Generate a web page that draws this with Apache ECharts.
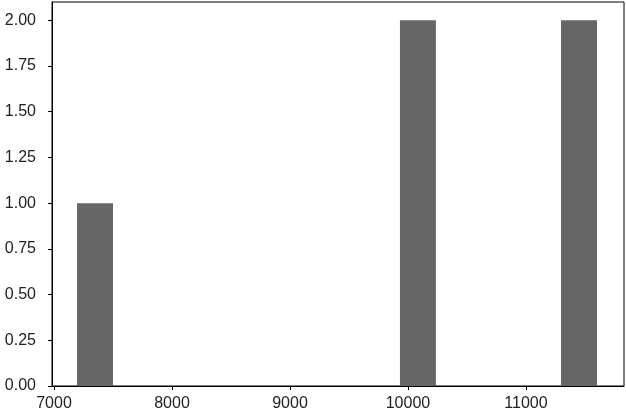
<!DOCTYPE html>
<html>
<head>
<meta charset="utf-8">
<script src="https://cdn.jsdelivr.net/npm/echarts@6/dist/echarts.min.js"></script>
<style>
  html, body { margin: 0; padding: 0; background: #fff; }
  #chart { width: 626px; height: 412px; }
</style>
</head>
<body>
<div id="chart"></div>
<script>
// histogram bars: left edge, right edge, count
const binLeft = [7195, 9932, 11297];
const binRight = [7500, 10237, 11602];
const counts = [1, 2, 2];

const xTicks = [7000, 8000, 9000, 10000, 11000];
const yTicks = [0, 0.25, 0.5, 0.75, 1.0, 1.25, 1.5, 1.75, 2.0];

const chart = echarts.init(document.getElementById("chart"));

const data = binLeft.map((l, i) => [l, binRight[i], counts[i]]);

const labelStyle = {
    color: "#222",
    fontFamily: "Liberation Sans",
    fontSize: 16
};

const option = {
    animation: false,
    grid: {
        left: 52,
        right: 2,
        top: 2,
        bottom: 26,
        show: true,
        borderColor: "#000",
        borderWidth: 1
    },
    xAxis: {
        type: "value",
        min: 6983,
        max: 11831,
        splitLine: { show: false },
        axisLine: { lineStyle: { color: "#000" } },
        axisTick: {
            show: true,
            length: 4,
            customValues: xTicks,
            lineStyle: { color: "#000" }
        },
        axisLabel: Object.assign({
            margin: 10,
            customValues: xTicks,
            formatter: v => String(v)
        }, labelStyle)
    },
    yAxis: {
        type: "value",
        min: 0,
        max: 2.1,
        splitLine: { show: false },
        axisLine: { show: true, lineStyle: { color: "#000" } },
        axisTick: {
            show: true,
            length: 4,
            customValues: yTicks,
            lineStyle: { color: "#000" }
        },
        axisLabel: Object.assign({
            margin: 16,
            customValues: yTicks,
            formatter: v => v.toFixed(2)
        }, labelStyle)
    },
    series: [
        {
            type: "custom",
            data: data,
            encode: { x: [0, 1], y: 2 },
            renderItem: function (params, api) {
                const p0 = api.coord([api.value(0), 0]);
                const p1 = api.coord([api.value(1), api.value(2)]);
                return {
                    type: "rect",
                    shape: {
                        x: p0[0],
                        y: p1[1],
                        width: p1[0] - p0[0],
                        height: p0[1] - p1[1]
                    },
                    style: { fill: "#666666" }
                };
            }
        }
    ]
};

chart.setOption(option);
</script>
</body>
</html>
